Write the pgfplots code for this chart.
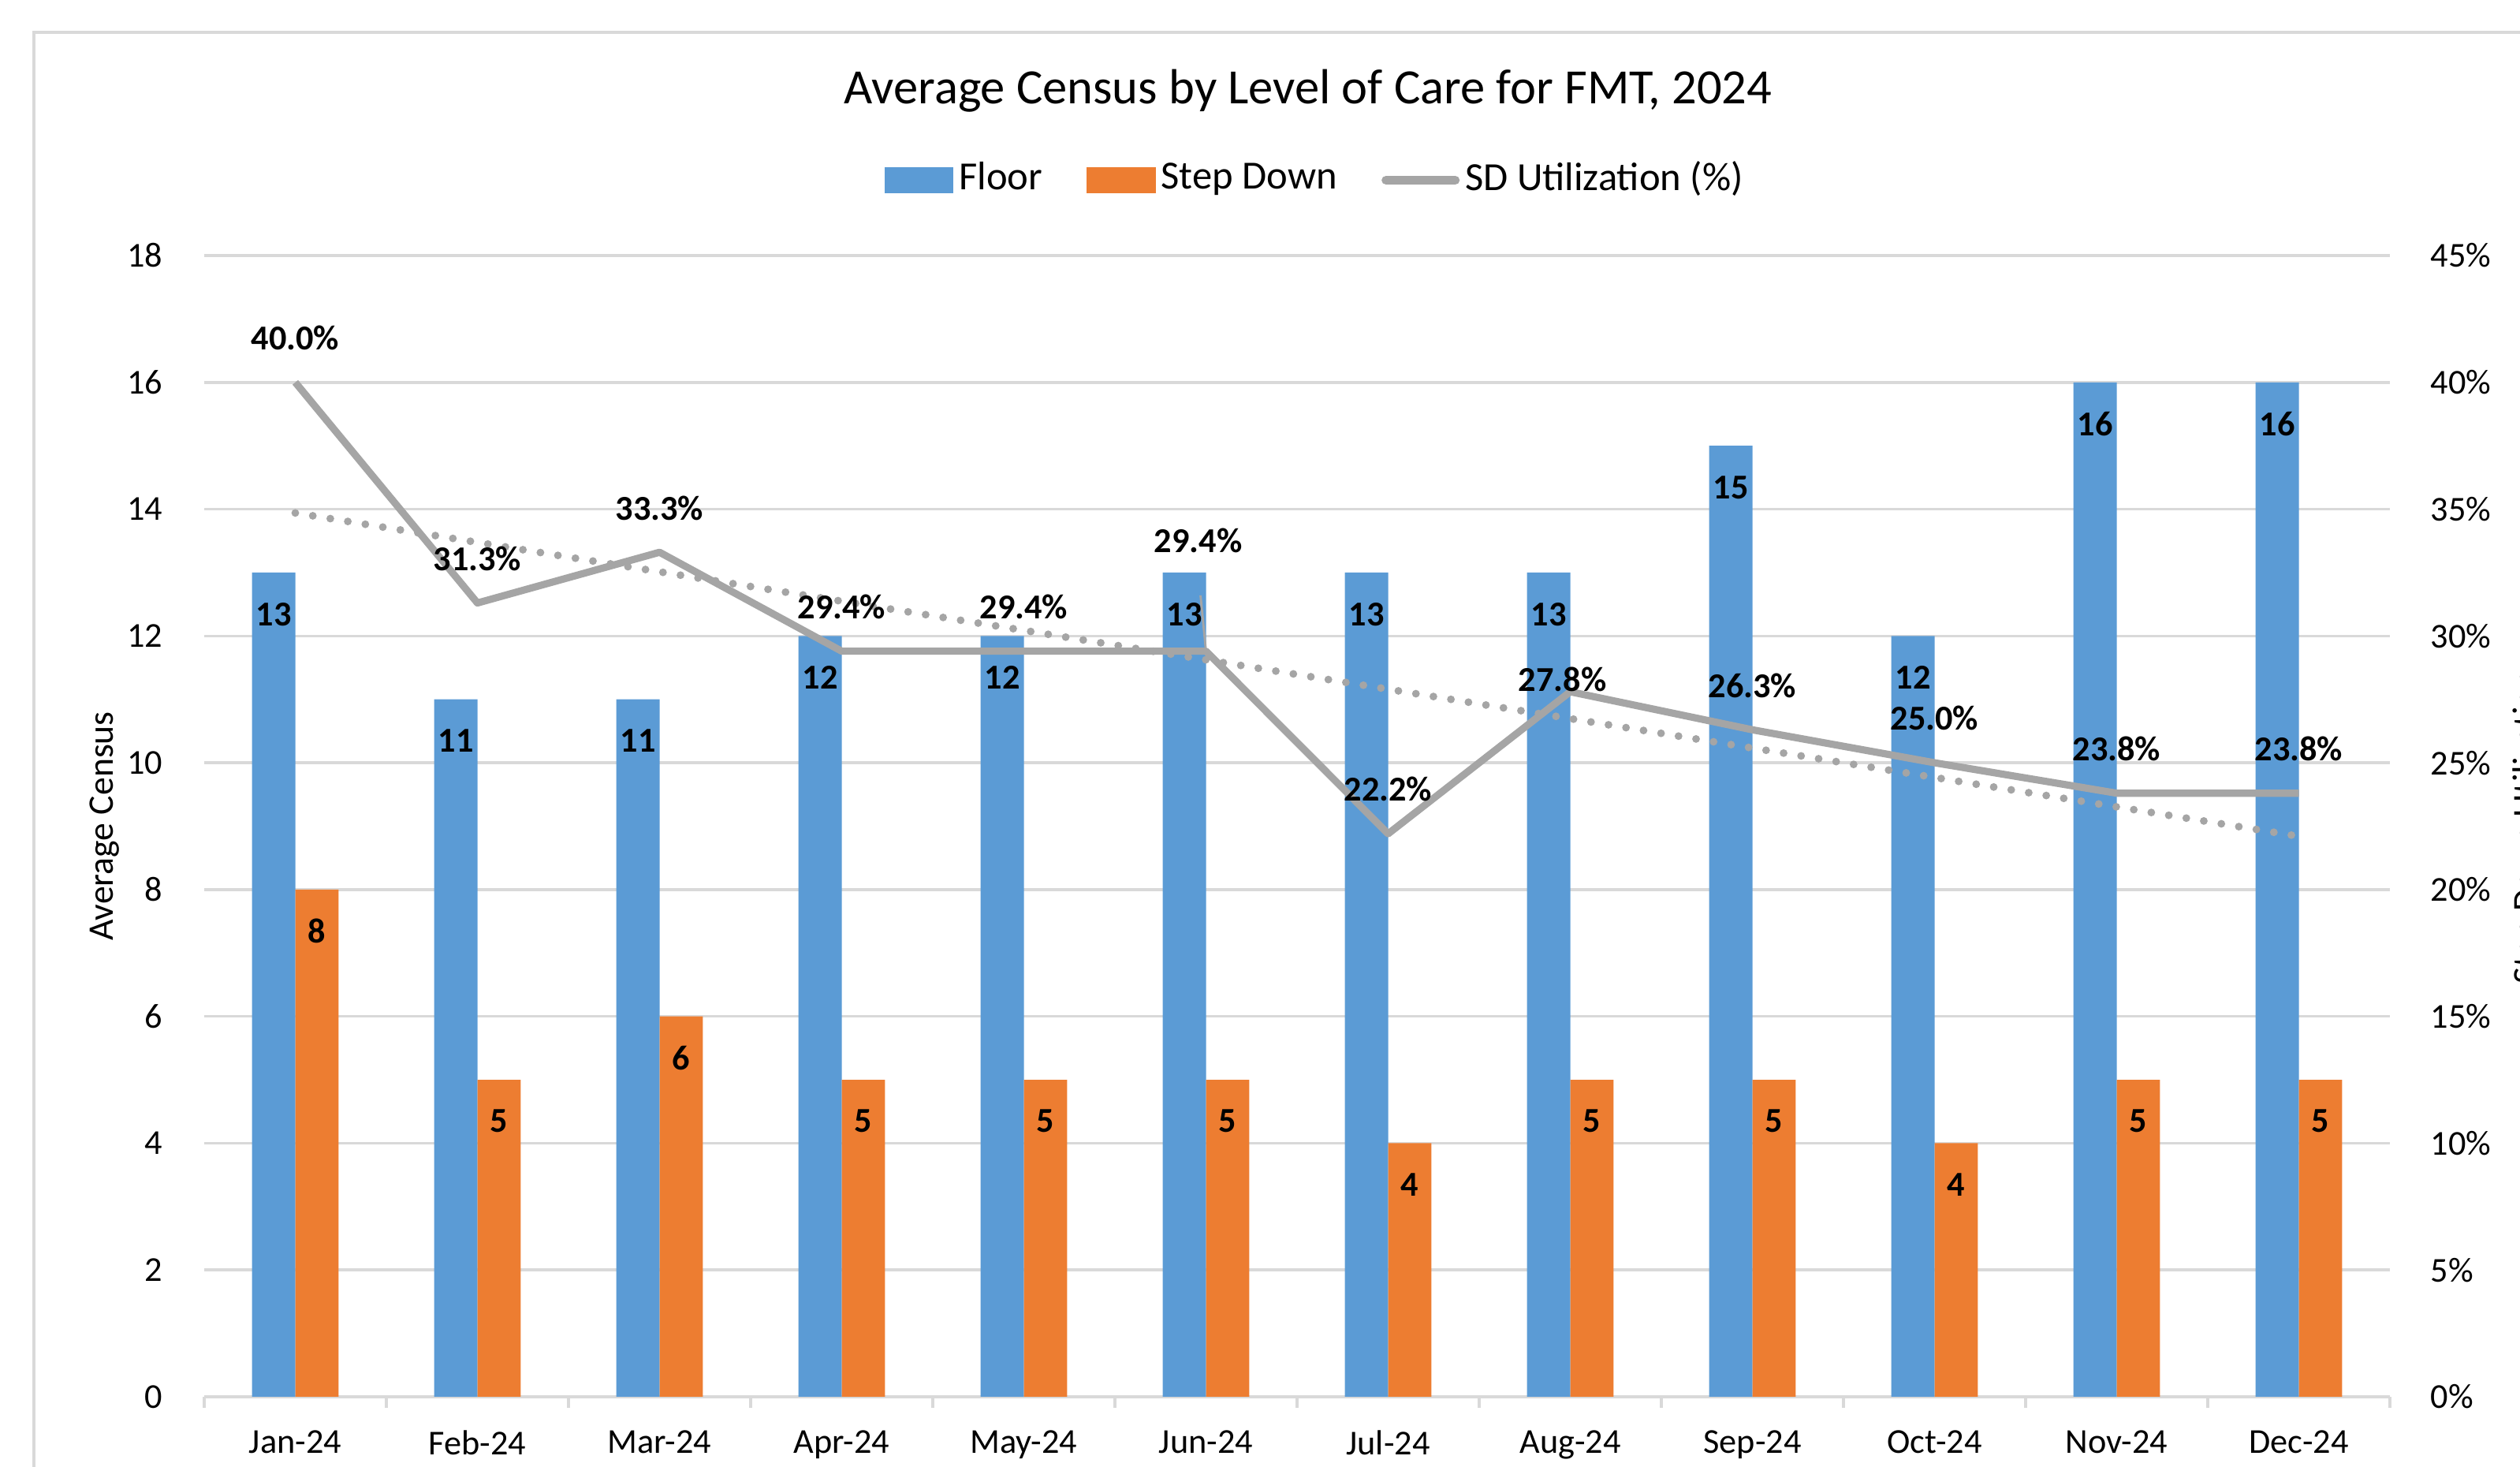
\documentclass[border=0pt]{standalone}
\usepackage{pgfplots}
\usepackage{pgfplotstable}
\pgfplotsset{compat=1.18}
\usepackage{fontspec}
\setmainfont{Carlito}
\definecolor{floorblue}{HTML}{5B9BD5}
\definecolor{sdorange}{HTML}{ED7D31}
\definecolor{linegray}{HTML}{A5A5A5}
\definecolor{gridgray}{HTML}{D9D9D9}

\pgfplotstableread{
x floor sd
0 13 8
1 11 5
2 11 6
3 12 5
4 12 5
5 13 5
6 13 4
7 13 5
8 15 5
9 12 4
10 16 5
11 16 5
}\census

\pgfplotstableread{
x util dy dx lab
0 40.0 8 0 40.0
1 31.3 8 0 31.3
2 33.3 8 0 33.3
3 29.4 8 0 29.4
4 29.4 8 0 29.4
5 29.4 20 -1.4 29.4
6 22.2 8 0 22.2
7 27.8 2.3 -1.4 27.8
8 26.3 8 0 26.3
9 25.0 8 0 25.0
10 23.8 8 0 23.8
11 23.8 8 0 23.8
}\utiltab

\pgfplotstableread{
x t
0 34.85
1 33.69
2 32.53
3 31.37
4 30.22
5 29.06
6 27.90
7 26.74
8 25.58
9 24.42
10 23.26
11 22.10
}\trend

\begin{document}
\begin{tikzpicture}
\useasboundingbox (0,0) rectangle (15.98cm,9.30cm);
\draw[gridgray, line width=0.6pt] (0.215cm,-1cm) -- (0.215cm,9.095cm) -- (17cm,9.095cm);

\begin{axis}[
  at={(1.295cm,0.445cm)}, anchor=south west,
  scale only axis, width=13.86cm, height=7.235cm,
  xmin=-0.5, xmax=11.5, ymin=0, ymax=18,
  ytick={0,2,...,18},
  xtick={0,...,11},
  xticklabels={Jan-24,Feb-24,Mar-24,Apr-24,May-24,Jun-24,Jul-24,Aug-24,Sep-24,Oct-24,Nov-24,Dec-24},
  minor xtick={-0.5,0.5,...,11.5},
  major tick length=0pt, minor tick length=2pt,
  tick align=outside,
  axis x line*=bottom, axis y line*=left,
  y axis line style={draw=none},
  x axis line style={gridgray, line width=0.6pt, -},
  minor tick style={gridgray, line width=0.6pt},
  ymajorgrids, grid style={gridgray, line width=0.5pt},
  ticklabel style={font=\fontsize{6.3}{7}\selectfont},
  /pgf/number format/assume math mode=true,
  xticklabel style={yshift=-2.6pt},
  yticklabel style={xshift=-4pt},
  ylabel={Average Census},
  ylabel style={at={(rel axis cs:-0.0455,0.5)}, anchor=center, font=\fontsize{6.5}{7}\selectfont},
  title={Average Census by Level of Care for FMT, 2024},
  title style={at={(rel axis cs:0.505,1.1155)}, anchor=center, font=\fontsize{8.9}{10}\selectfont},
]
\addplot[ybar, bar width=0.238, bar shift=-0.119, fill=floorblue, draw=none,
  nodes near coords,
  every node near coord/.append style={anchor=center, xshift=-0.1374cm, yshift=-7.5pt, font=\bfseries\fontsize{6.3}{7}\selectfont, text=black}]
  table[x=x, y=floor]{\census};
\addplot[ybar, bar width=0.238, bar shift=0.119, fill=sdorange, draw=none,
  nodes near coords,
  every node near coord/.append style={anchor=center, xshift=0.1374cm, yshift=-7.5pt, font=\bfseries\fontsize{6.3}{7}\selectfont, text=black}]
  table[x=x, y=sd]{\census};
\end{axis}

\begin{axis}[
  at={(1.295cm,0.445cm)}, anchor=south west,
  scale only axis, width=13.86cm, height=7.235cm,
  xmin=-0.5, xmax=11.5, ymin=0, ymax=45,
  ytick={0,5,...,45},
  yticklabel={\pgfmathprintnumber{\tick}\%},
  xtick=\empty,
  axis y line*=right, axis x line=none,
  y axis line style={draw=none},
  major tick length=0pt,
  ticklabel style={font=\fontsize{6.3}{7}\selectfont},
  /pgf/number format/assume math mode=true,
  yticklabel style={xshift=3.8pt},
  legend columns=-1,
  legend style={at={(rel axis cs:0.509,1.066)}, anchor=center, draw=none, fill=none,
    font=\fontsize{7.2}{8}\selectfont,
    nodes={inner xsep=1pt, inner ysep=1pt},
    /tikz/every even column/.append style={column sep=7pt}},
]
\addlegendimage{legend image code/.code={\fill[floorblue] (0pt,-2.2pt) rectangle (12pt,2.2pt);}}
\addlegendentry{Floor}
\addlegendimage{legend image code/.code={\fill[sdorange] (0pt,-2.2pt) rectangle (12pt,2.2pt);}}
\addlegendentry{Step Down}
\addplot[linegray, line width=1.4pt, dash pattern=on 0pt off 3.2pt, line cap=round, forget plot]
  table[x=x, y=t]{\trend};
\addplot[linegray, line width=0.4pt, forget plot] coordinates {(5,29.4) (4.97,31.6)};
\addplot[linegray, line width=1.3pt, line join=round, mark=none,
  nodes near coords={\pgfplotspointmeta\%},
  point meta=explicit symbolic,
  visualization depends on={\thisrow{dy}\as\dy},
  visualization depends on={\thisrow{dx}\as\dx},
  every node near coord/.append style={anchor=center, yshift=\dy, xshift=\dx, font=\bfseries\fontsize{6.3}{7}\selectfont, text=black},
  legend image code/.code={\draw[linegray, line width=1.6pt, line cap=round] (0pt,0pt) -- (12.5pt,0pt);}]
  table[x=x, y=util, meta=lab]{\utiltab};
\addlegendentry{SD Utilization (\%)}
\end{axis}

\node[rotate=90, font=\fontsize{6.5}{7}\selectfont] at (16.03cm,4.06cm) {Step Down Utilization};
\end{tikzpicture}
\end{document}
